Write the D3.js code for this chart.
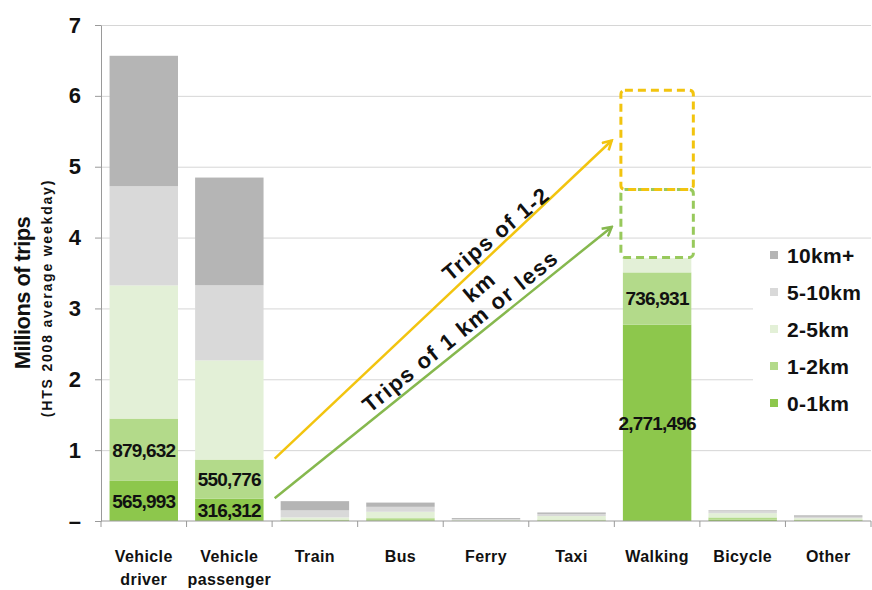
<!DOCTYPE html>
<html>
<head>
<meta charset="utf-8">
<script src="https://cdn.jsdelivr.net/npm/d3@7"></script>
<style>
    body { margin: 0; background: #fff; }
    text { font-family: "Liberation Sans", Arial, sans-serif; font-weight: bold; fill: #111; }
</style>
</head>
<body>
<div id="chart"></div>
<script>
// trips by mode and distance, Sydney HTS 2008 (millions of trips, average weekday)
const categories = ["Vehicle driver", "Vehicle passenger", "Train", "Bus", "Ferry", "Taxi", "Walking", "Bicycle", "Other"];
const distanceBands = ["0-1km", "1-2km", "2-5km", "5-10km", "10km+"];

const trips0to1km  = [0.565993, 0.316312, 0.01, 0.01, 0.003, 0.005, 2.771496, 0.02, 0.01];
const trips1to2km  = [0.879632, 0.550776, 0.01, 0.03, 0.003, 0.015, 0.736931, 0.03, 0.01];
const trips2to5km  = [1.88, 1.40, 0.03, 0.09, 0.01, 0.05, 0.20, 0.06, 0.02];
const trips5to10km = [1.40, 1.06, 0.10, 0.07, 0.01, 0.03, 0, 0.03, 0.02];
const trips10kmUp  = [1.84, 1.52, 0.13, 0.06, 0.015, 0.02, 0, 0.01, 0.02];

const yTicks = [0, 1, 2, 3, 4, 5, 6, 7];
const yTickLabels = ["\u2013", "1", "2", "3", "4", "5", "6", "7"];

// which stacked segments get a number printed on them
const labelledSegments = [
    { category: "Vehicle driver", band: "0-1km" },
    { category: "Vehicle driver", band: "1-2km" },
    { category: "Vehicle passenger", band: "0-1km" },
    { category: "Vehicle passenger", band: "1-2km" },
    { category: "Walking", band: "0-1km" },
    { category: "Walking", band: "1-2km" }
];

// dashed "potential walking" boxes on top of the walking bar (millions)
const shiftBoxBands = ["1-2km", "0-1km"];
const shiftBoxFrom = [4.68, 3.72];
const shiftBoxTo = [6.08, 4.68];

// arrows: from the passenger bar to the walking boxes (x in category steps, y in millions)
const arrowNames = ["Trips of 1-2 km", "Trips of 1 km or less"];
const arrowFromStep = [2.03, 2.03];
const arrowFromValue = [0.88, 0.32];
const arrowToStep = [5.97, 5.97];
const arrowToValue = [5.37, 4.15];

const colors = {
    "0-1km": "#8dc74c",
    "1-2km": "#b3da8a",
    "2-5km": "#e3f0d7",
    "5-10km": "#d9d9d9",
    "10km+": "#b5b5b5"
};
const arrowColors = ["#f2c40f", "#86b84e"];
const boxColors = ["#f2c40f", "#98c95c"];

class TripsChart {

    constructor(parentElement) {
        this.parentElement = parentElement;

        let series = [trips0to1km, trips1to2km, trips2to5km, trips5to10km, trips10kmUp];
        this.data = categories.map(function(c, i) {
            let row = { category: c };
            distanceBands.forEach(function(b, j) { row[b] = series[j][i]; });
            return row;
        });

        this.initVis();
    }

    initVis() {
        let vis = this;

        vis.margin = { top: 25, right: 1, bottom: 69, left: 101 };
        vis.width = 872 - vis.margin.left - vis.margin.right;
        vis.height = 590 - vis.margin.top - vis.margin.bottom;

        vis.root = d3.select(vis.parentElement)
            .append("svg")
            .attr("width", 872)
            .attr("height", 590);

        vis.svg = vis.root.append("g")
            .attr("transform", "translate(" + vis.margin.left + "," + vis.margin.top + ")");

        vis.x = d3.scaleBand()
            .domain(categories)
            .range([0, vis.width])
            .paddingInner(0.2)
            .paddingOuter(0.1);

        vis.y = d3.scaleLinear()
            .domain([0, 7])
            .range([vis.height, 0]);

        vis.updateVis();
    }

    // x position of a point measured in category steps from the left of the plot
    stepX(s) {
        return this.x.range()[0] + s * this.x.step();
    }

    updateVis() {
        let vis = this;
        let x = vis.x, y = vis.y;

        // gridlines
        vis.svg.append("g")
            .attr("class", "grid")
            .call(d3.axisLeft(y).tickValues(yTicks.slice(1)).tickSize(-vis.width).tickFormat(""))
            .call(g => g.select(".domain").remove())
            .call(g => g.selectAll("line").attr("stroke", "#d6d6d6"));

        // stacked bars
        let stacked = d3.stack().keys(distanceBands)(vis.data);
        vis.svg.selectAll(".layer")
            .data(stacked)
            .enter().append("g")
            .attr("class", "layer")
            .attr("fill", d => colors[d.key])
            .selectAll("rect")
            .data(d => d)
            .enter().append("rect")
            .attr("x", d => x(d.data.category))
            .attr("width", x.bandwidth())
            .attr("y", d => y(d[1]))
            .attr("height", d => y(d[0]) - y(d[1]));

        // values printed on the short-distance segments
        vis.svg.selectAll(".bar-text")
            .data(labelledSegments)
            .enter().append("text")
            .attr("class", "bar-text")
            .attr("x", d => x(d.category) + x.bandwidth() / 2)
            .attr("y", function(d) {
                let layer = stacked.find(s => s.key === d.band);
                let seg = layer[categories.indexOf(d.category)];
                return y((seg[0] + seg[1]) / 2);
            })
            .attr("dy", "0.36em")
            .attr("text-anchor", "middle")
            .attr("font-size", 19)
            .attr("letter-spacing", -0.8)
            .text(function(d) {
                let layer = stacked.find(s => s.key === d.band);
                let seg = layer[categories.indexOf(d.category)];
                return d3.format(",")(Math.round((seg[1] - seg[0]) * 1e6));
            });

        // dashed boxes above walking bar, green under yellow
        let wx = x("Walking");
        vis.svg.selectAll(".shift-box")
            .data(shiftBoxBands.slice().reverse())
            .enter().append("rect")
            .attr("class", "shift-box")
            .attr("x", wx - 2)
            .attr("width", x.bandwidth() + 4)
            .attr("y", d => y(shiftBoxTo[shiftBoxBands.indexOf(d)]))
            .attr("height", d => y(shiftBoxFrom[shiftBoxBands.indexOf(d)]) - y(shiftBoxTo[shiftBoxBands.indexOf(d)]))
            .attr("rx", 4)
            .attr("fill", "none")
            .attr("stroke", d => boxColors[shiftBoxBands.indexOf(d)])
            .attr("stroke-width", 3)
            .attr("stroke-dasharray", "8,5");

        // arrows
        let defs = vis.root.append("defs");
        arrowColors.forEach(function(c, i) {
            defs.append("marker")
                .attr("id", "head" + i)
                .attr("viewBox", "0 0 12 12")
                .attr("refX", 10).attr("refY", 6)
                .attr("markerWidth", 12).attr("markerHeight", 12)
                .attr("markerUnits", "userSpaceOnUse")
                .attr("orient", "auto")
                .append("path")
                .attr("d", "M1,1 L10,6 L1,11")
                .attr("fill", "none")
                .attr("stroke", c)
                .attr("stroke-width", 2.5);
        });

        arrowNames.forEach(function(name, i) {
            let x1 = vis.stepX(arrowFromStep[i]), y1 = y(arrowFromValue[i]);
            let x2 = vis.stepX(arrowToStep[i]), y2 = y(arrowToValue[i]);
            vis.svg.append("line")
                .attr("x1", x1).attr("y1", y1)
                .attr("x2", x2).attr("y2", y2)
                .attr("stroke", arrowColors[i])
                .attr("stroke-width", 2.5)
                .attr("marker-end", "url(#head" + i + ")");
        });

        // arrow captions (yellow one wraps onto two lines)
        let ax1 = vis.stepX(arrowFromStep[0]), ay1 = y(arrowFromValue[0]);
        let ax2 = vis.stepX(arrowToStep[0]), ay2 = y(arrowToValue[0]);
        let cap1 = vis.svg.append("text")
            .attr("transform", "translate(" + (ax1 + (ax2 - ax1) * 0.53 - 3) + "," + (ay1 + (ay2 - ay1) * 0.53 - 8) + ") rotate(-40)")
            .attr("font-size", 22)
            .attr("letter-spacing", 1.2);
        cap1.append("tspan").attr("x", 0).attr("y", 0).text("Trips of 1-2");
        cap1.append("tspan").attr("x", 2).attr("y", 30).text("km");

        let gx1 = vis.stepX(arrowFromStep[1]), gy1 = y(arrowFromValue[1]);
        let gx2 = vis.stepX(arrowToStep[1]), gy2 = y(arrowToValue[1]);
        vis.svg.append("text")
            .attr("transform", "translate(" + (gx1 + (gx2 - gx1) * 0.565) + "," + (gy1 + (gy2 - gy1) * 0.565 - 8) + ") rotate(-38.8)")
            .attr("text-anchor", "middle")
            .attr("font-size", 22)
            .attr("letter-spacing", 1.5)
            .text(arrowNames[1]);

        // y axis
        vis.svg.append("g")
            .attr("class", "axis")
            .call(d3.axisLeft(y).tickValues(yTicks).tickSize(6).tickSizeOuter(0).tickPadding(14)
                .tickFormat((d, i) => yTickLabels[i]))
            .call(g => g.selectAll("line, path").attr("stroke", "#9a9a9a"))
            .call(g => g.selectAll("text").attr("font-size", 22).attr("font-family", null).attr("fill", "#111"));

        // x axis with ticks between categories
        let xAxis = vis.svg.append("g")
            .attr("class", "axis")
            .attr("transform", "translate(0," + vis.height + ")");
        xAxis.append("line")
            .attr("x1", 0).attr("x2", vis.width)
            .attr("stroke", "#9a9a9a");
        xAxis.selectAll(".xtick")
            .data(d3.range(categories.length + 1))
            .enter().append("line")
            .attr("class", "xtick")
            .attr("x1", d => vis.stepX(d)).attr("x2", d => vis.stepX(d))
            .attr("y1", 0).attr("y2", 6)
            .attr("stroke", "#9a9a9a");
        let xl = xAxis.selectAll(".xlabel")
            .data(categories)
            .enter().append("text")
            .attr("class", "xlabel")
            .attr("text-anchor", "middle")
            .attr("font-size", 16)
            .attr("letter-spacing", 0.4);
        xl.each(function(d) {
            let words = d.split(" ");
            let t = d3.select(this);
            words.forEach(function(w, k) {
                t.append("tspan")
                    .attr("x", x(d) + x.bandwidth() / 2)
                    .attr("y", 41 + k * 23)
                    .text(w);
            });
        });

        // y axis titles
        vis.root.append("text")
            .attr("transform", "translate(30,293) rotate(-90)")
            .attr("text-anchor", "middle")
            .attr("font-size", 22)
            .attr("letter-spacing", -0.6)
            .text("Millions of trips");
        vis.root.append("text")
            .attr("transform", "translate(52,298) rotate(-90)")
            .attr("text-anchor", "middle")
            .attr("font-size", 14)
            .attr("letter-spacing", 1.8)
            .text("(HTS 2008 average weekday)");

        // legend, top band first
        let legend = vis.root.append("g").attr("class", "legend");
        legend.append("rect")
            .attr("x", 753).attr("y", 243)
            .attr("width", 119).attr("height", 201)
            .attr("fill", "#fff");
        let rows = legend.selectAll(".legend-row")
            .data(distanceBands.slice().reverse())
            .enter().append("g")
            .attr("class", "legend-row")
            .attr("transform", (d, i) => "translate(770," + (255 + i * 37) + ")");
        rows.append("rect")
            .attr("x", 0).attr("y", -4)
            .attr("width", 8).attr("height", 8)
            .attr("fill", d => colors[d]);
        rows.append("text")
            .attr("x", 17)
            .attr("dy", "0.36em")
            .attr("font-size", 21)
            .attr("letter-spacing", 0.3)
            .text(d => d);
    }
}

new TripsChart("#chart");
</script>
</body>
</html>
